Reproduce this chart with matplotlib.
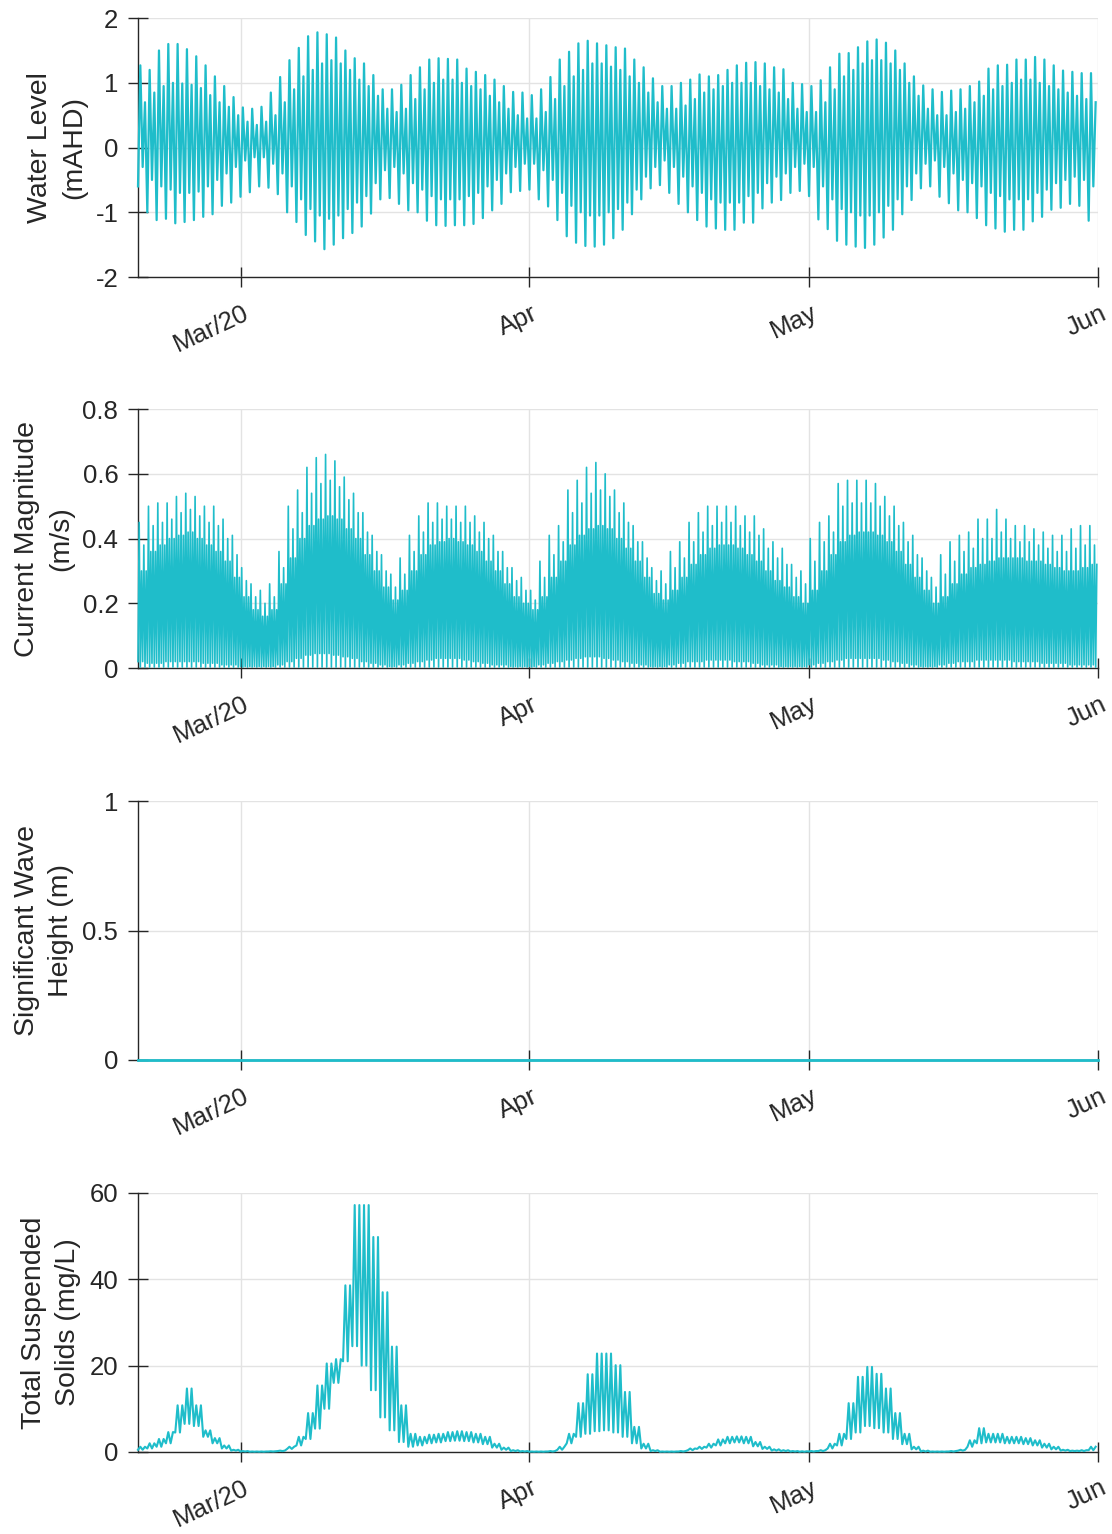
import datetime as dt

import matplotlib
matplotlib.use('Agg')
import matplotlib.pyplot as plt
import matplotlib.transforms as mtransforms

plt.rcParams['font.family'] = ['Liberation Sans', 'DejaVu Sans']
plt.rcParams['axes.unicode_minus'] = False

########################################################################################################################
# Data, one value per day from 2020-02-19 to 2020-05-31
########################################################################################################################
start_day = dt.datetime(2020, 2, 19)
end_day = dt.datetime(2020, 6, 1)

x_ticks = [dt.datetime(2020, 3, 1), dt.datetime(2020, 4, 1), dt.datetime(2020, 5, 1), dt.datetime(2020, 6, 1)]
x_tick_labels = ['Mar/20', 'Apr', 'May', 'Jun']

# water level (mAHD): higher high, lower high, higher low, lower low of each day
wl_hh = [1.27, 1.2, 1.5, 1.6, 1.6, 1.52, 1.41, 1.27, 1.1, 0.95,
         0.78, 0.62, 0.6, 0.63, 0.85, 1.09, 1.35, 1.54, 1.72, 1.78,
         1.75, 1.7, 1.5, 1.38, 1.3, 1.12, 0.9, 0.9, 0.97, 1.12,
         1.24, 1.36, 1.38, 1.37, 1.36, 1.22, 1.17, 1.12, 1.05, 0.95,
         0.86, 0.85, 0.81, 0.9, 1.09, 1.36, 1.48, 1.61, 1.65, 1.61,
         1.58, 1.55, 1.53, 1.36, 1.24, 1.07, 0.95, 0.95, 1.0, 1.05,
         1.13, 1.1, 1.12, 1.2, 1.27, 1.31, 1.32, 1.3, 1.24, 1.21,
         1.0, 0.98, 0.95, 1.04, 1.24, 1.45, 1.46, 1.55, 1.64, 1.67,
         1.62, 1.5, 1.3, 1.1, 0.96, 0.9, 0.86, 0.88, 0.9, 0.95,
         1.02, 1.22, 1.27, 1.28, 1.36, 1.36, 1.4, 1.36, 1.27, 1.19,
         1.17, 1.15, 1.15]
wl_lh = [0.7, 0.85, 0.95, 1.0, 0.99, 0.97, 0.92, 0.81, 0.7, 0.63,
         0.5, 0.4, 0.35, 0.4, 0.5, 0.7, 0.9, 1.1, 1.2, 1.3,
         1.35, 1.3, 1.2, 1.05, 0.95, 0.8, 0.6, 0.55, 0.6, 0.75,
         0.9, 1.0, 1.05, 1.05, 1.0, 0.95, 0.9, 0.8, 0.7, 0.6,
         0.5, 0.45, 0.45, 0.55, 0.75, 0.95, 1.1, 1.2, 1.3, 1.3,
         1.25, 1.2, 1.1, 1.0, 0.85, 0.7, 0.6, 0.6, 0.65, 0.75,
         0.85, 0.9, 0.95, 1.0, 1.0, 1.0, 0.95, 0.9, 0.85, 0.75,
         0.6, 0.55, 0.55, 0.7, 0.9, 1.1, 1.2, 1.3, 1.35, 1.35,
         1.3, 1.2, 1.0, 0.8, 0.6, 0.5, 0.5, 0.55, 0.6, 0.7,
         0.8, 0.9, 0.95, 1.0, 1.05, 1.05, 1.0, 0.95, 0.9, 0.85,
         0.8, 0.75, 0.7]
wl_hl = [-0.3, -0.5, -0.6, -0.65, -0.7, -0.7, -0.68, -0.6, -0.5, -0.4,
         -0.3, -0.2, -0.15, -0.15, -0.25, -0.4, -0.6, -0.8, -0.95, -1.05,
         -1.1, -1.05, -0.95, -0.85, -0.75, -0.55, -0.35, -0.3, -0.4, -0.55,
         -0.65, -0.75, -0.8, -0.8, -0.8, -0.75, -0.7, -0.6, -0.5, -0.4,
         -0.3, -0.25, -0.25, -0.35, -0.5, -0.7, -0.9, -1.0, -1.05, -1.05,
         -1.0, -0.95, -0.85, -0.65, -0.45, -0.3, -0.2, -0.3, -0.45, -0.6,
         -0.7, -0.8, -0.85, -0.85, -0.85, -0.75, -0.7, -0.55, -0.45, -0.4,
         -0.3, -0.25, -0.3, -0.6, -0.8, -0.95, -1.0, -1.05, -1.05, -1.0,
         -0.9, -0.8, -0.6, -0.4, -0.25, -0.2, -0.3, -0.4, -0.5, -0.55,
         -0.6, -0.7, -0.75, -0.8, -0.8, -0.8, -0.7, -0.65, -0.55, -0.5,
         -0.45, -0.5, -0.6]
wl_ll = [-0.6, -1.0, -1.12, -1.1, -1.17, -1.15, -1.12, -1.07, -1.03, -0.9,
         -0.85, -0.76, -0.69, -0.6, -0.62, -0.72, -1.0, -1.15, -1.35, -1.45,
         -1.57, -1.5, -1.4, -1.32, -1.22, -1.02, -0.8, -0.78, -0.87, -0.97,
         -1.0, -1.13, -1.2, -1.21, -1.2, -1.2, -1.18, -1.09, -0.97, -0.87,
         -0.69, -0.67, -0.65, -0.8, -0.91, -1.12, -1.37, -1.47, -1.52, -1.53,
         -1.5, -1.4, -1.27, -1.03, -0.8, -0.63, -0.58, -0.7, -0.87, -1.0,
         -1.12, -1.22, -1.25, -1.27, -1.27, -1.16, -1.16, -0.94, -0.85, -0.81,
         -0.7, -0.67, -0.75, -1.11, -1.26, -1.44, -1.5, -1.53, -1.55, -1.5,
         -1.39, -1.27, -1.03, -0.81, -0.63, -0.6, -0.76, -0.86, -0.97, -1.0,
         -1.09, -1.2, -1.25, -1.3, -1.27, -1.27, -1.14, -1.07, -0.96, -0.93,
         -0.87, -0.9, -1.13]

# current magnitude (m/s): tallest spike, middle spike, top of the solid band, slack floor of each day
cur_max = [0.45, 0.5, 0.51, 0.51, 0.53, 0.54, 0.53, 0.5, 0.5, 0.46,
           0.41, 0.31, 0.26, 0.24, 0.26, 0.36, 0.5, 0.55, 0.62, 0.65,
           0.66, 0.64, 0.59, 0.54, 0.48, 0.41, 0.35, 0.29, 0.34, 0.41,
           0.47, 0.51, 0.51, 0.5, 0.5, 0.5, 0.47, 0.45, 0.41, 0.36,
           0.31, 0.28, 0.24, 0.33, 0.41, 0.44, 0.55, 0.58, 0.62, 0.635,
           0.6, 0.55, 0.51, 0.44, 0.39, 0.31, 0.3, 0.36, 0.39, 0.45,
           0.48, 0.5, 0.5, 0.5, 0.5, 0.47, 0.47, 0.43, 0.39, 0.37,
           0.32, 0.3, 0.4, 0.45, 0.47, 0.57, 0.58, 0.58, 0.58, 0.57,
           0.53, 0.5, 0.45, 0.41, 0.34, 0.28, 0.35, 0.39, 0.41, 0.42,
           0.46, 0.46, 0.49, 0.46, 0.44, 0.44, 0.43, 0.42, 0.41, 0.41,
           0.43, 0.44, 0.44]
cur_mid = [0.38, 0.44, 0.45, 0.46, 0.48, 0.49, 0.47, 0.45, 0.44, 0.4,
           0.35, 0.27, 0.22, 0.2, 0.22, 0.31, 0.43, 0.48, 0.54, 0.57,
           0.58, 0.56, 0.52, 0.48, 0.42, 0.36, 0.3, 0.25, 0.29, 0.36,
           0.42, 0.45, 0.46, 0.46, 0.45, 0.45, 0.42, 0.4, 0.36, 0.31,
           0.27, 0.24, 0.21, 0.28, 0.35, 0.39, 0.48, 0.51, 0.54, 0.55,
           0.53, 0.48, 0.45, 0.39, 0.34, 0.27, 0.26, 0.31, 0.34, 0.39,
           0.42, 0.44, 0.45, 0.45, 0.44, 0.42, 0.41, 0.37, 0.34, 0.32,
           0.28, 0.26, 0.33, 0.39, 0.42, 0.5, 0.51, 0.51, 0.51, 0.5,
           0.47, 0.44, 0.39, 0.35, 0.3, 0.25, 0.29, 0.33, 0.36, 0.37,
           0.4, 0.4, 0.42, 0.4, 0.39, 0.39, 0.38, 0.37, 0.36, 0.36,
           0.37, 0.38, 0.38]
cur_fill = [0.3, 0.36, 0.38, 0.4, 0.41, 0.42, 0.4, 0.38, 0.36, 0.33,
            0.28, 0.22, 0.18, 0.16, 0.18, 0.26, 0.34, 0.4, 0.44, 0.46,
            0.47, 0.46, 0.43, 0.4, 0.35, 0.3, 0.25, 0.21, 0.24, 0.3,
            0.35, 0.38, 0.39, 0.4, 0.39, 0.38, 0.36, 0.33, 0.3, 0.26,
            0.22, 0.2, 0.18, 0.22, 0.28, 0.33, 0.38, 0.41, 0.43, 0.44,
            0.43, 0.4, 0.37, 0.33, 0.28, 0.23, 0.21, 0.24, 0.28, 0.32,
            0.35, 0.37, 0.38, 0.38, 0.37, 0.35, 0.33, 0.3, 0.27, 0.25,
            0.22, 0.2, 0.24, 0.3, 0.35, 0.39, 0.41, 0.42, 0.42, 0.41,
            0.39, 0.36, 0.32, 0.28, 0.24, 0.2, 0.22, 0.26, 0.29, 0.31,
            0.32, 0.33, 0.34, 0.34, 0.34, 0.33, 0.33, 0.32, 0.31, 0.3,
            0.3, 0.31, 0.32]
cur_floor = [0.02, 0.015, 0.015, 0.02, 0.02, 0.02, 0.02, 0.015, 0.015, 0.01,
             0.01, 0.005, 0.005, 0.005, 0.005, 0.01, 0.02, 0.03, 0.04, 0.045,
             0.045, 0.04, 0.035, 0.03, 0.02, 0.015, 0.01, 0.005, 0.01, 0.015,
             0.02, 0.025, 0.03, 0.03, 0.03, 0.025, 0.02, 0.015, 0.01, 0.01,
             0.005, 0.005, 0.005, 0.01, 0.015, 0.02, 0.025, 0.03, 0.035, 0.035,
             0.03, 0.025, 0.02, 0.015, 0.01, 0.005, 0.005, 0.01, 0.015, 0.02,
             0.02, 0.025, 0.025, 0.025, 0.02, 0.02, 0.015, 0.01, 0.01, 0.005,
             0.005, 0.005, 0.01, 0.015, 0.02, 0.025, 0.03, 0.03, 0.03, 0.03,
             0.025, 0.02, 0.015, 0.01, 0.005, 0.005, 0.01, 0.015, 0.02, 0.02,
             0.025, 0.025, 0.025, 0.025, 0.02, 0.02, 0.02, 0.015, 0.015, 0.015,
             0.01, 0.01, 0.01]
cur_slack = 0.003  # slack water reaches ~0 every day

# significant wave height (m): flat zero for the whole record
hs_daily = [0.0] * len(wl_hh)

# total suspended solids (mg/L): spike top and baseline of each day
tss_hi = [1.2, 2.0, 3.0, 4.6, 10.8, 14.7, 10.8, 5.0, 3.2, 1.5,
          0.5, 0.2, 0.1, 0.1, 0.15, 0.3, 1.2, 3.5, 9.0, 15.4,
          20.5, 21.5, 38.6, 57.2, 57.2, 49.8, 37.0, 24.4, 10.8, 4.2,
          3.5, 4.0, 4.2, 4.6, 4.8, 4.6, 4.2, 3.5, 1.9, 1.0,
          0.4, 0.2, 0.1, 0.1, 0.2, 1.2, 4.2, 11.3, 18.0, 22.8,
          22.8, 20.1, 13.9, 5.8, 1.9, 0.4, 0.1, 0.1, 0.2, 0.8,
          1.2, 1.9, 2.9, 3.5, 3.6, 3.5, 2.3, 1.2, 0.6, 0.4,
          0.2, 0.15, 0.2, 0.4, 1.9, 4.2, 11.3, 17.4, 19.7, 18.1,
          14.7, 9.0, 4.2, 1.2, 0.3, 0.1, 0.1, 0.2, 0.5, 2.7,
          5.5, 4.2, 4.2, 3.5, 3.5, 3.2, 2.7, 1.9, 1.2, 0.5,
          0.3, 0.4, 1.2]
tss_lo = [0.5, 0.8, 1.2, 2.0, 4.5, 6.5, 6.0, 3.5, 2.0, 0.8,
          0.3, 0.1, 0.05, 0.05, 0.1, 0.2, 0.7, 1.5, 3.0, 5.4,
          10.0, 16.0, 21.0, 24.5, 20.0, 14.3, 8.0, 5.0, 2.3, 1.2,
          1.5, 2.0, 2.2, 2.5, 2.6, 2.5, 2.2, 1.8, 1.0, 0.5,
          0.2, 0.1, 0.05, 0.05, 0.1, 0.5, 2.0, 3.5, 4.2, 4.8,
          5.0, 4.5, 3.5, 2.0, 0.8, 0.2, 0.05, 0.05, 0.1, 0.4,
          0.7, 1.0, 1.5, 2.0, 2.2, 2.0, 1.3, 0.7, 0.3, 0.2,
          0.1, 0.05, 0.1, 0.2, 0.8, 1.5, 3.0, 4.5, 6.0, 5.5,
          4.5, 3.0, 1.8, 0.6, 0.1, 0.05, 0.05, 0.1, 0.3, 1.2,
          2.0, 2.2, 2.2, 2.0, 2.0, 1.8, 1.5, 1.0, 0.6, 0.3,
          0.2, 0.2, 0.4]


def daily_series(columns):
    """
    Walk through the days and put the listed daily readings one after the other, evenly spaced within each day.
    """
    times, values = [], []
    for day, readings in enumerate(zip(*columns)):
        step = 24.0 / len(readings)
        for k, val in enumerate(readings):
            times.append(start_day + dt.timedelta(days=day, hours=k * step))
            values.append(val)
    return times, values


n_days = len(wl_hh)
slack = [cur_slack] * n_days

t_wl, wl = daily_series([wl_ll, wl_hh, wl_hl, wl_lh])
t_cur, cur = daily_series([cur_floor, cur_max, slack, cur_fill, cur_floor, cur_mid, slack, cur_fill])
t_hs, hs = daily_series([hs_daily])
t_tss, tss = daily_series([tss_lo, tss_hi, tss_lo, tss_hi])
t_hs.append(end_day)
hs.append(hs_daily[-1])

########################################################################################################################
# Figure
########################################################################################################################
line_color = '#1fbdca'
axis_color = '#262626'
grid_color = '#e3e3e3'

panels = [
    (t_wl, wl, 1.6, 'Water Level\n(mAHD)', [-2, -1, 0, 1, 2], ['-2', '-1', '0', '1', '2']),
    (t_cur, cur, 1.2, 'Current Magnitude\n(m/s)', [0, 0.2, 0.4, 0.6, 0.8], ['0', '0.2', '0.4', '0.6', '0.8']),
    (t_hs, hs, 2.0, 'Significant Wave\nHeight (m)', [0, 0.5, 1], ['0', '0.5', '1']),
    (t_tss, tss, 1.5, 'Total Suspended\nSolids (mg/L)', [0, 20, 40, 60], ['0', '20', '40', '60']),
]
bottoms = [0.8194, 0.5645, 0.3090, 0.0535]

fig = plt.figure(figsize=(11.12, 15.34), dpi=100)
shift = mtransforms.ScaledTranslation(12 / 100, 0, fig.dpi_scale_trans)

for (t, v, lw, ylabel, yticks, ylabels), bottom in zip(panels, bottoms):
    ax = fig.add_axes([0.1241, bottom, 0.8633, 0.1688])
    ax.plot(t, v, color=line_color, lw=lw, zorder=3, clip_on=False)
    ax.set_xlim(start_day, end_day)
    ax.set_ylim(yticks[0], yticks[-1])
    ax.set_yticks(yticks)
    ax.set_yticklabels(ylabels)
    ax.set_xticks(x_ticks)
    ax.set_xticklabels(x_tick_labels, rotation=25, ha='right', va='top')
    ax.tick_params(axis='both', direction='inout', length=14.4, width=1.0, color=axis_color,
                   labelcolor=axis_color, labelsize=18.5)
    ax.tick_params(axis='x', pad=10)
    ax.tick_params(axis='y', pad=7)
    # nudge the rotated month labels to the right, like the reference
    for lab in ax.get_xticklabels():
        lab.set_transform(lab.get_transform() + shift)
    ax.grid(True, color=grid_color, lw=1.0, zorder=0)
    ax.set_axisbelow(True)
    for side in ['top', 'right']:
        ax.spines[side].set_visible(False)
    for side in ['left', 'bottom']:
        ax.spines[side].set_color(axis_color)
        ax.spines[side].set_linewidth(1.0)
    ax.set_ylabel(ylabel, fontsize=20.5, color=axis_color, labelpad=6, linespacing=1.4)

fig.savefig('out.png', dpi=100, facecolor='white')
